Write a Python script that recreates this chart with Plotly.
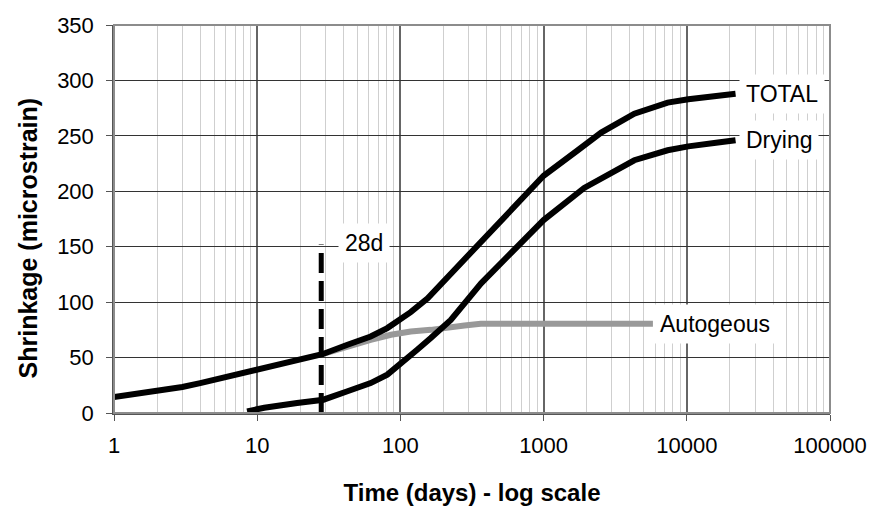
import math
import plotly.graph_objects as go

# Shrinkage over time (days, log scale)
total_days = [1, 1.3, 1.62, 2, 3, 4, 5, 6.5, 8.5, 11.2, 15, 19, 28.5, 42.7, 62, 81, 106, 118,
              155, 265, 336, 505, 700, 1000, 1733, 2524, 4300, 7350, 10250, 16500, 21900]
total_shrink = [14.5, 16.5, 18.5, 19.5, 23.5, 27, 30, 33, 36, 40.6, 44, 48, 53, 61.6, 69, 76.6, 86, 91,
                103.5, 135, 150, 174, 193.5, 214, 237, 253, 270, 280, 283, 286, 288]

drying_days = [8.5, 11.2, 19, 29, 42.7, 62, 81, 106, 131, 163, 225, 366, 505, 700, 1000,
               1920, 2524, 3490, 4300, 7350, 10250, 16500, 21900]
drying_shrink = [1.5, 4.7, 9, 12, 19.6, 27, 34.6, 48, 57, 67.6, 84, 117, 135, 153, 174,
                 203, 212, 222, 228, 237, 240.5, 244, 246]

auto_days = [28.5, 42.7, 62, 86, 118, 163, 202, 280, 364, 5800]
auto_shrink = [53, 60, 66, 70.6, 73.5, 75, 77, 79, 80.5, 80.5]

marker_day = [28, 28]
marker_shrink = [0, 152]

x_ticks = [1, 10, 100, 1000, 10000, 100000]
x_tick_text = ["1", "10", "100", "1000", "10000", "100000"]
y_ticks = [0, 50, 100, 150, 200, 250, 300, 350]

FONT = "Arial, Liberation Sans, sans-serif"

fig = go.Figure()
fig.add_trace(go.Scatter(x=auto_days, y=auto_shrink, mode="lines",
                         line=dict(color="#999999", width=6), name="Autogeous"))
fig.add_trace(go.Scatter(x=drying_days, y=drying_shrink, mode="lines",
                         line=dict(color="black", width=6), name="Drying"))
fig.add_trace(go.Scatter(x=total_days, y=total_shrink, mode="lines",
                         line=dict(color="black", width=6), name="TOTAL"))
fig.add_trace(go.Scatter(x=marker_day, y=marker_shrink, mode="lines",
                         line=dict(color="black", width=5, dash="20px,8px"), name="28d"))

label_font = dict(family=FONT, size=23, color="black")
labels = [
    ("TOTAL", total_days[-1] * 1.05, total_shrink[-1]),
    ("Drying", drying_days[-1] * 1.05, drying_shrink[-1]),
    ("Autogeous", auto_days[-1], auto_shrink[-1]),
    ("28d", 36.5, 153),
]
for text, xv, yv in labels:
    fig.add_annotation(x=math.log10(xv), y=yv, text=text, showarrow=False,
                       xanchor="left", yanchor="middle", font=label_font,
                       bgcolor="white", borderpad=6)

# y-axis title
fig.add_annotation(xref="paper", yref="paper", x=-0.12, y=0.45, text="<b>Shrinkage (microstrain)</b>",
                   textangle=-90, showarrow=False, xanchor="center", yanchor="middle",
                   font=dict(family=FONT, size=25, color="black"))

fig.update_xaxes(type="log", range=[0, 5], tickvals=x_ticks, ticktext=x_tick_text,
                 showgrid=True, gridcolor="#666666", gridwidth=1.5,
                 minor=dict(dtick="D1", showgrid=True, gridcolor="#cfcfcf", gridwidth=1,
                            ticks=""),
                 ticks="outside", ticklen=6, tickcolor="#555555",
                 showline=True, linecolor="#555555", linewidth=1.5,
                 tickfont=dict(family=FONT, size=22, color="black"),
                 ticklabelstandoff=6, automargin=False,
                 title=dict(text="<b>Time (days) - log scale</b>",
                            font=dict(family=FONT, size=24, color="black"), standoff=32),
                 zeroline=False)
fig.update_yaxes(range=[0, 350], tickvals=y_ticks,
                 showgrid=True, gridcolor="#333333", gridwidth=1,
                 ticks="outside", ticklen=6, tickcolor="#555555",
                 showline=True, linecolor="#555555", linewidth=1.5,
                 tickfont=dict(family=FONT, size=22, color="black"),
                 ticklabelstandoff=8, automargin=False,
                 zeroline=False)

# plot-area frame
fig.add_shape(type="rect", xref="paper", yref="paper", x0=0, y0=0, x1=1, y1=1,
              line=dict(color="#8c8c8c", width=2), layer="above")

fig.update_layout(width=874, height=506, margin=dict(l=114, r=44, t=25, b=93),
                  plot_bgcolor="white", paper_bgcolor="white", showlegend=False,
                  font=dict(family=FONT))

fig.write_html("out.html")
